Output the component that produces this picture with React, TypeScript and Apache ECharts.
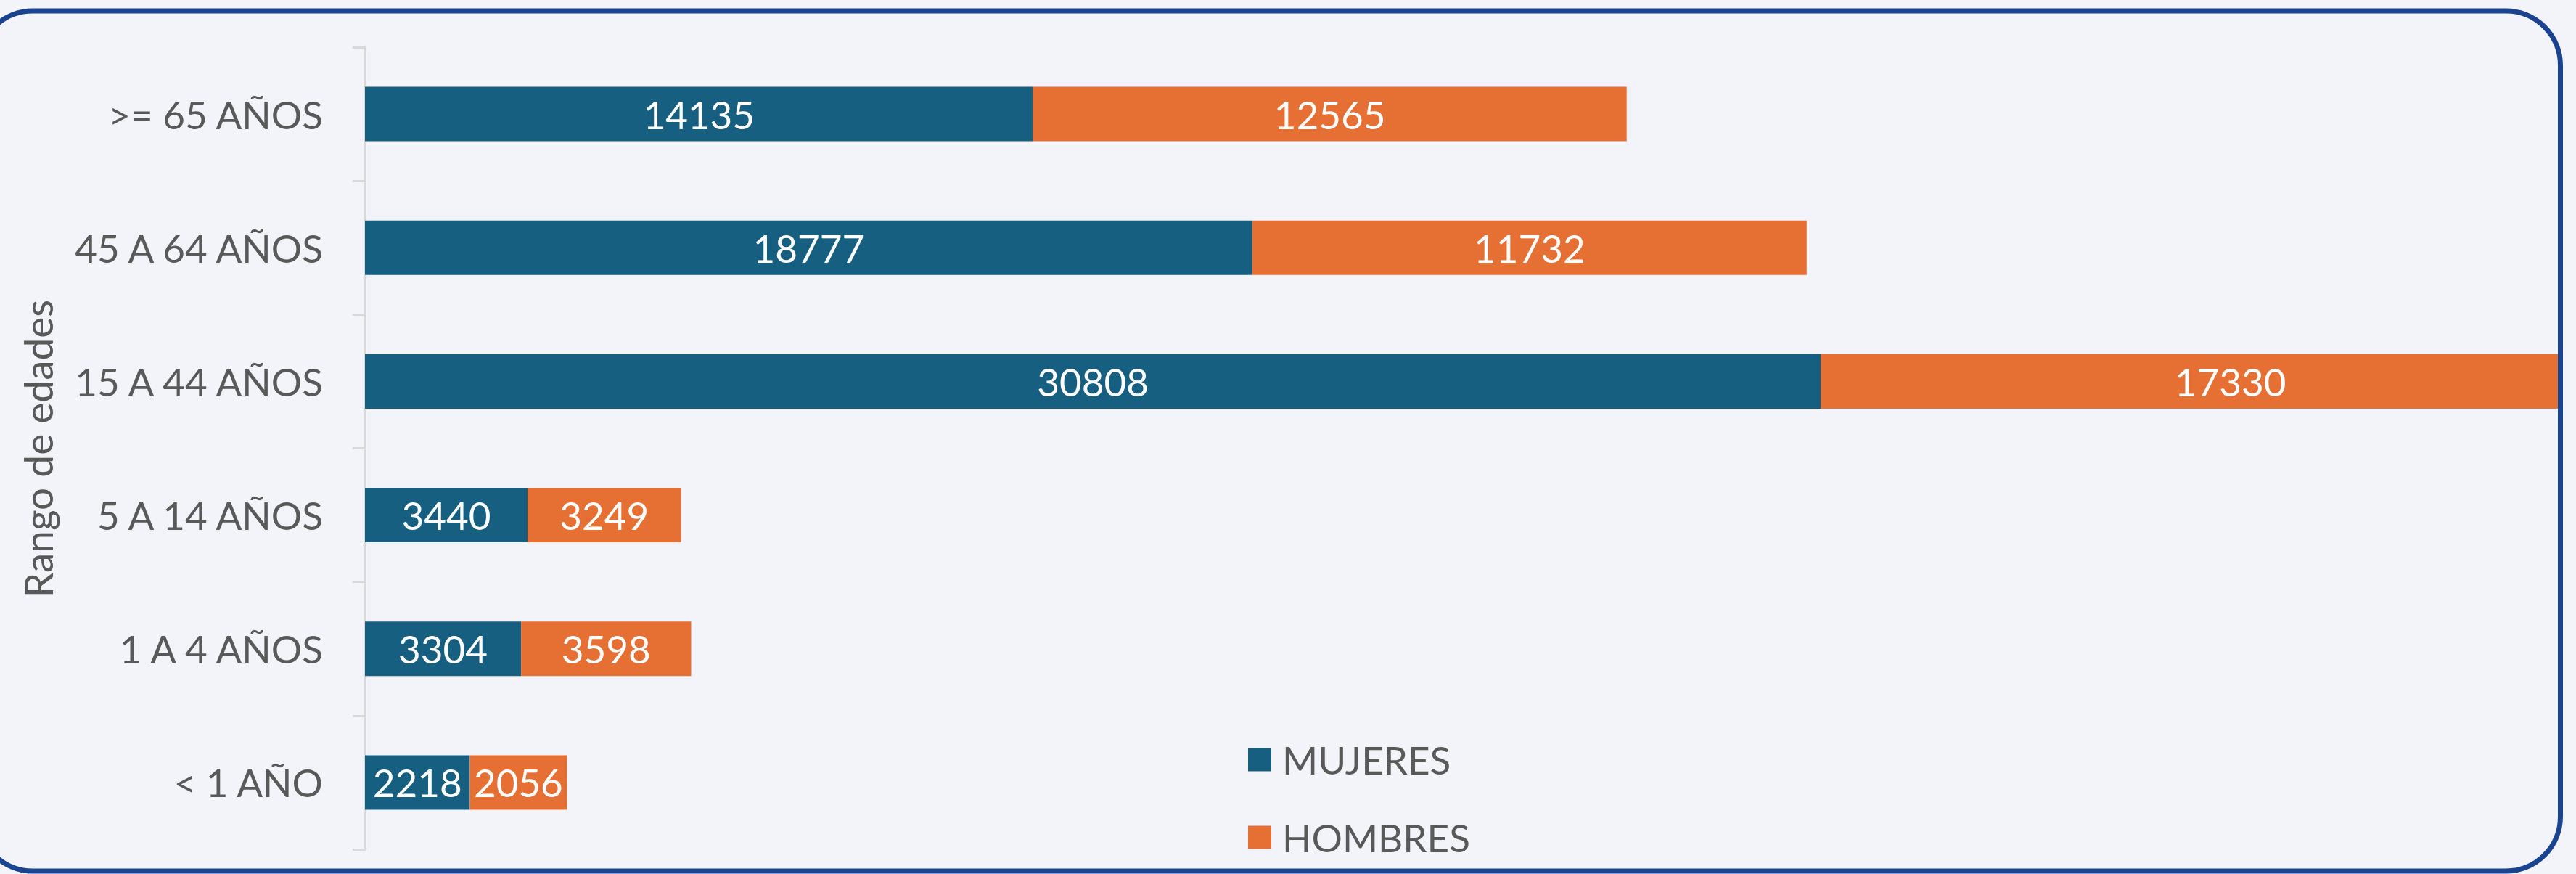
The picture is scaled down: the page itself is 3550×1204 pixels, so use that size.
import React, { useEffect, useRef } from "react";
import * as echarts from "echarts";

const categories = ["< 1 AÑO", "1 A 4 AÑOS", "5 A 14 AÑOS", "15 A 44 AÑOS", "45 A 64 AÑOS", ">= 65 AÑOS"];
const mujeres = [2218, 3304, 3440, 30808, 18777, 14135];
const hombres = [2056, 3598, 3249, 17330, 11732, 12565];
const seriesNames = ["MUJERES", "HOMBRES"];
const axisTitle = "Rango de edades";

const BG = "#f2f4f9";
const TEXT = "#595959";
const FONT = "Lato";

export default function App() {
  const ref = useRef<HTMLDivElement>(null);
  useEffect(() => {
    if (!ref.current) return;
    const chart = echarts.init(ref.current, null, { renderer: "svg" });
    chart.setOption({
      animation: false,
      backgroundColor: BG,
      grid: { left: 503, top: 65, height: 1105, right: 0 },
      xAxis: { type: "value", min: 0, max: 46790, show: false },
      yAxis: {
        type: "category",
        data: categories,
        axisLine: { show: true, lineStyle: { color: "#d9d9d9", width: 3 } },
        axisTick: { show: true, length: 17, lineStyle: { color: "#d9d9d9", width: 3 } },
        axisLabel: { margin: 58, color: TEXT, fontSize: 53, fontFamily: FONT },
        splitLine: { show: false },
      },
      legend: {
        orient: "vertical",
        left: 1715,
        top: 1011,
        itemWidth: 32,
        itemHeight: 32,
        itemGap: 46,
        icon: "rect",
        data: seriesNames,
        textStyle: { color: TEXT, fontSize: 53, fontFamily: FONT, lineHeight: 61, padding: [0, 0, 0, 10] },
      },
      series: [
        {
          name: seriesNames[0],
          type: "bar",
          stack: "total",
          barWidth: 75,
          clip: false,
          data: mujeres,
          itemStyle: { color: "#175f80" },
          label: { show: true, position: "inside", color: "#ffffff", fontSize: 53, fontFamily: FONT },
        },
        {
          name: seriesNames[1],
          type: "bar",
          stack: "total",
          barWidth: 75,
          clip: false,
          data: hombres,
          itemStyle: { color: "#e66f34" },
          label: { show: true, position: "inside", color: "#ffffff", fontSize: 53, fontFamily: FONT },
        },
      ],
      graphic: [
        {
          type: "text",
          x: 52,
          y: 618,
          rotation: Math.PI / 2,
          z: 100,
          style: {
            text: axisTitle,
            fill: TEXT,
            fontSize: 55,
            fontFamily: FONT,
            align: "center",
            verticalAlign: "middle",
            textAlign: "center",
            textVerticalAlign: "middle",
          },
        },
        {
          type: "rect",
          z: 99,
          shape: { x: 3531, y: 0, width: 40, height: 1204 },
          style: { fill: BG },
        },
        {
          type: "rect",
          z: 100,
          shape: { x: -30, y: 15, width: 3558.5, height: 1185, r: 75 },
          style: { fill: "none", stroke: "#1a4490", lineWidth: 7 },
        },
      ],
    });
    return () => chart.dispose();
  }, []);
  return (
    <div
      ref={ref}
      style={{ position: "fixed", left: 0, top: 0, width: 3550, height: 1204 }}
    />
  );
}
